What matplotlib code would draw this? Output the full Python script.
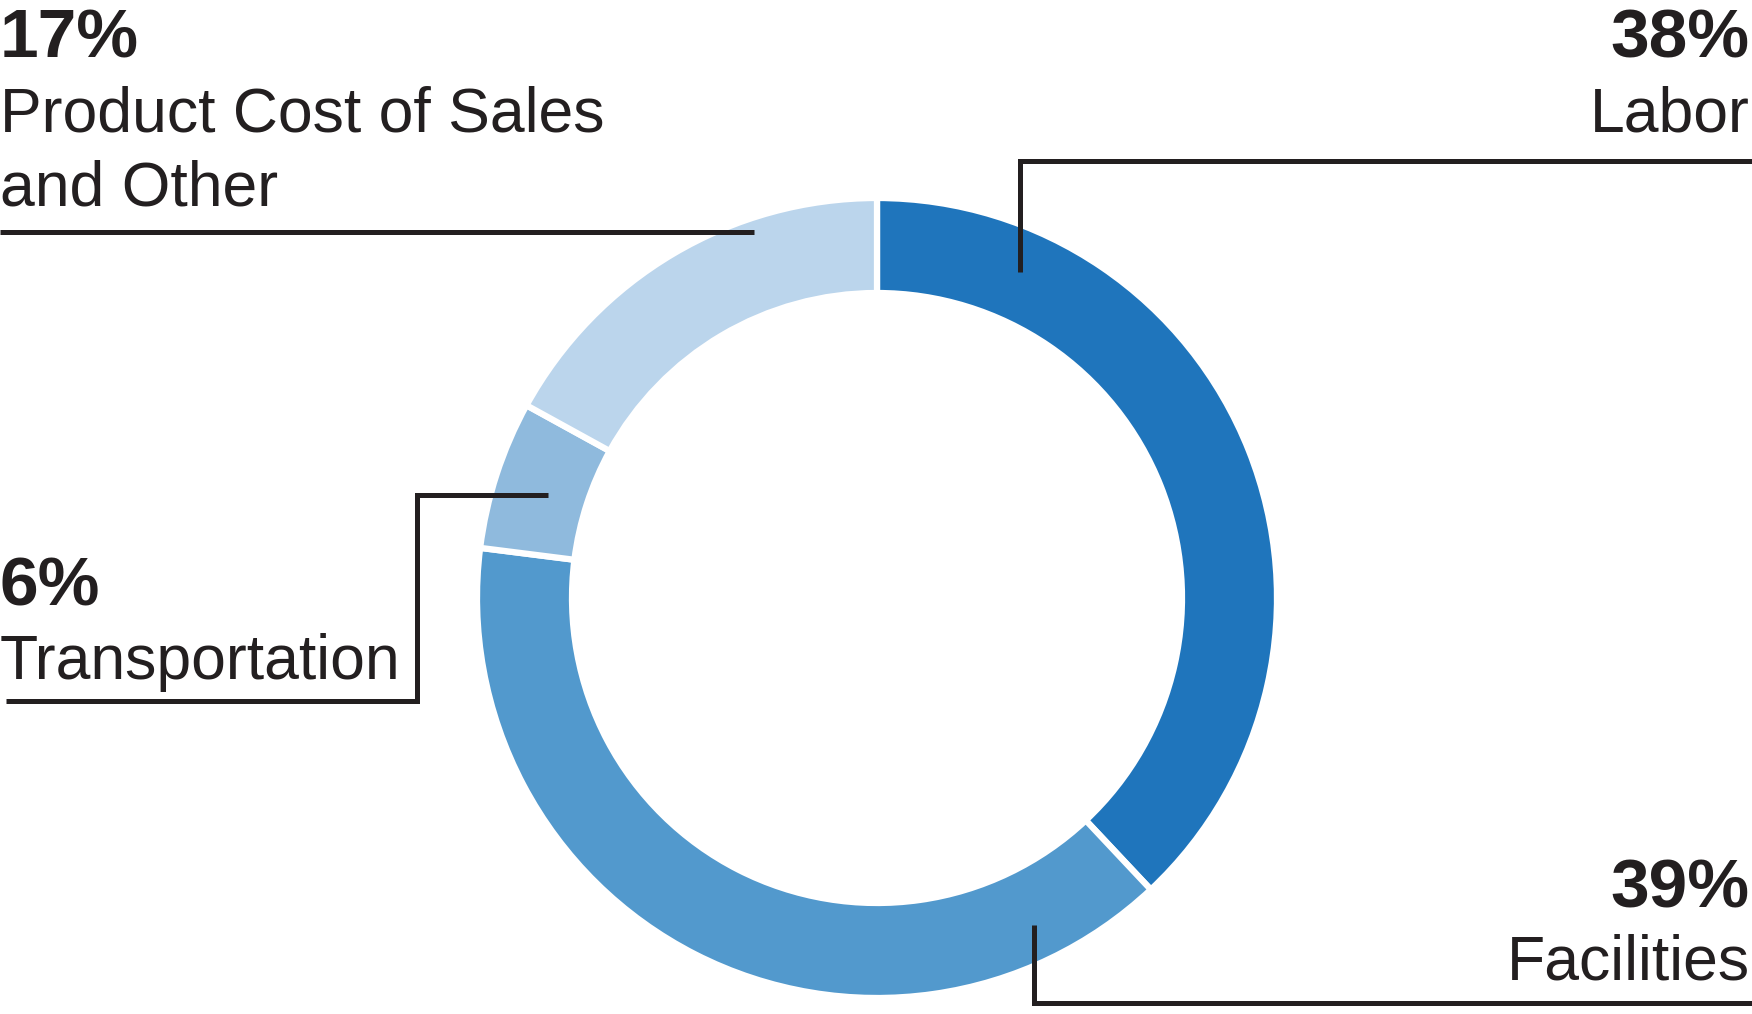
import matplotlib
matplotlib.use("Agg")
import matplotlib.pyplot as plt

# ---- data ----
categories = ["Labor", "Facilities", "Transportation", "Product Cost of Sales\nand Other"]
shares = [38, 39, 6, 17]
pct_labels = ["38%", "39%", "6%", "17%"]
colors = ["#1F75BC", "#5299CD", "#8FBADD", "#BBD5EC"]

W, H = 1752, 1014
fig = plt.figure(figsize=(W / 100, H / 100), dpi=100)
ax = fig.add_axes([0, 0, 1, 1])

def Y(y):  # convert top-based pixel y to data y
    return H - y

cx, cy, R, ring = 877, 598, 400, 95
ax.pie(shares, colors=colors, radius=R, center=(cx, Y(cy)), startangle=90,
       counterclock=False, frame=True,
       wedgeprops=dict(width=ring, edgecolor="white", linewidth=4.5))
ax.set_xlim(0, W)
ax.set_ylim(0, H)
ax.axis("off")
ax.set_aspect("auto")

lc = "#231F20"
lw = 3.6
def poly(pts):
    xs = [p[0] for p in pts]
    ys = [Y(p[1]) for p in pts]
    ax.plot(xs, ys, color=lc, lw=lw, solid_joinstyle="miter", solid_capstyle="butt")

# leader lines
poly([(1020, 272), (1020, 161), (1752, 161)])          # Labor
poly([(1034, 925), (1034, 1003), (1752, 1003)])        # Facilities
poly([(6, 701), (417, 701), (417, 495), (548, 495)])   # Transportation
poly([(0, 232), (754, 232)])                           # Product

fam = ["Liberation Sans", "DejaVu Sans"]
bsz, rsz = 50, 45
tc = "#231F20"

# Labor (right, top)
ax.text(1750, Y(57), pct_labels[0], ha="right", va="baseline", fontsize=bsz,
        fontweight="bold", family=fam, color=tc)
ax.text(1750, Y(132), categories[0], ha="right", va="baseline", fontsize=rsz,
        family=fam, color=tc)
# Facilities (right, bottom)
ax.text(1750, Y(907), pct_labels[1], ha="right", va="baseline", fontsize=bsz,
        fontweight="bold", family=fam, color=tc)
ax.text(1750, Y(980), categories[1], ha="right", va="baseline", fontsize=rsz,
        family=fam, color=tc)
# Transportation (left, middle)
ax.text(0, Y(606), pct_labels[2], ha="left", va="baseline", fontsize=bsz,
        fontweight="bold", family=fam, color=tc)
ax.text(0, Y(679), categories[2], ha="left", va="baseline", fontsize=rsz,
        family=fam, color=tc)
# Product (left, top)
ax.text(0, Y(57), pct_labels[3], ha="left", va="baseline", fontsize=bsz,
        fontweight="bold", family=fam, color=tc)
lines = categories[3].split("\n")
ax.text(0, Y(131), lines[0], ha="left", va="baseline", fontsize=rsz,
        family=fam, color=tc)
ax.text(0, Y(205), lines[1], ha="left", va="baseline", fontsize=rsz,
        family=fam, color=tc)

fig.savefig("out.png", dpi=100, facecolor="white")
